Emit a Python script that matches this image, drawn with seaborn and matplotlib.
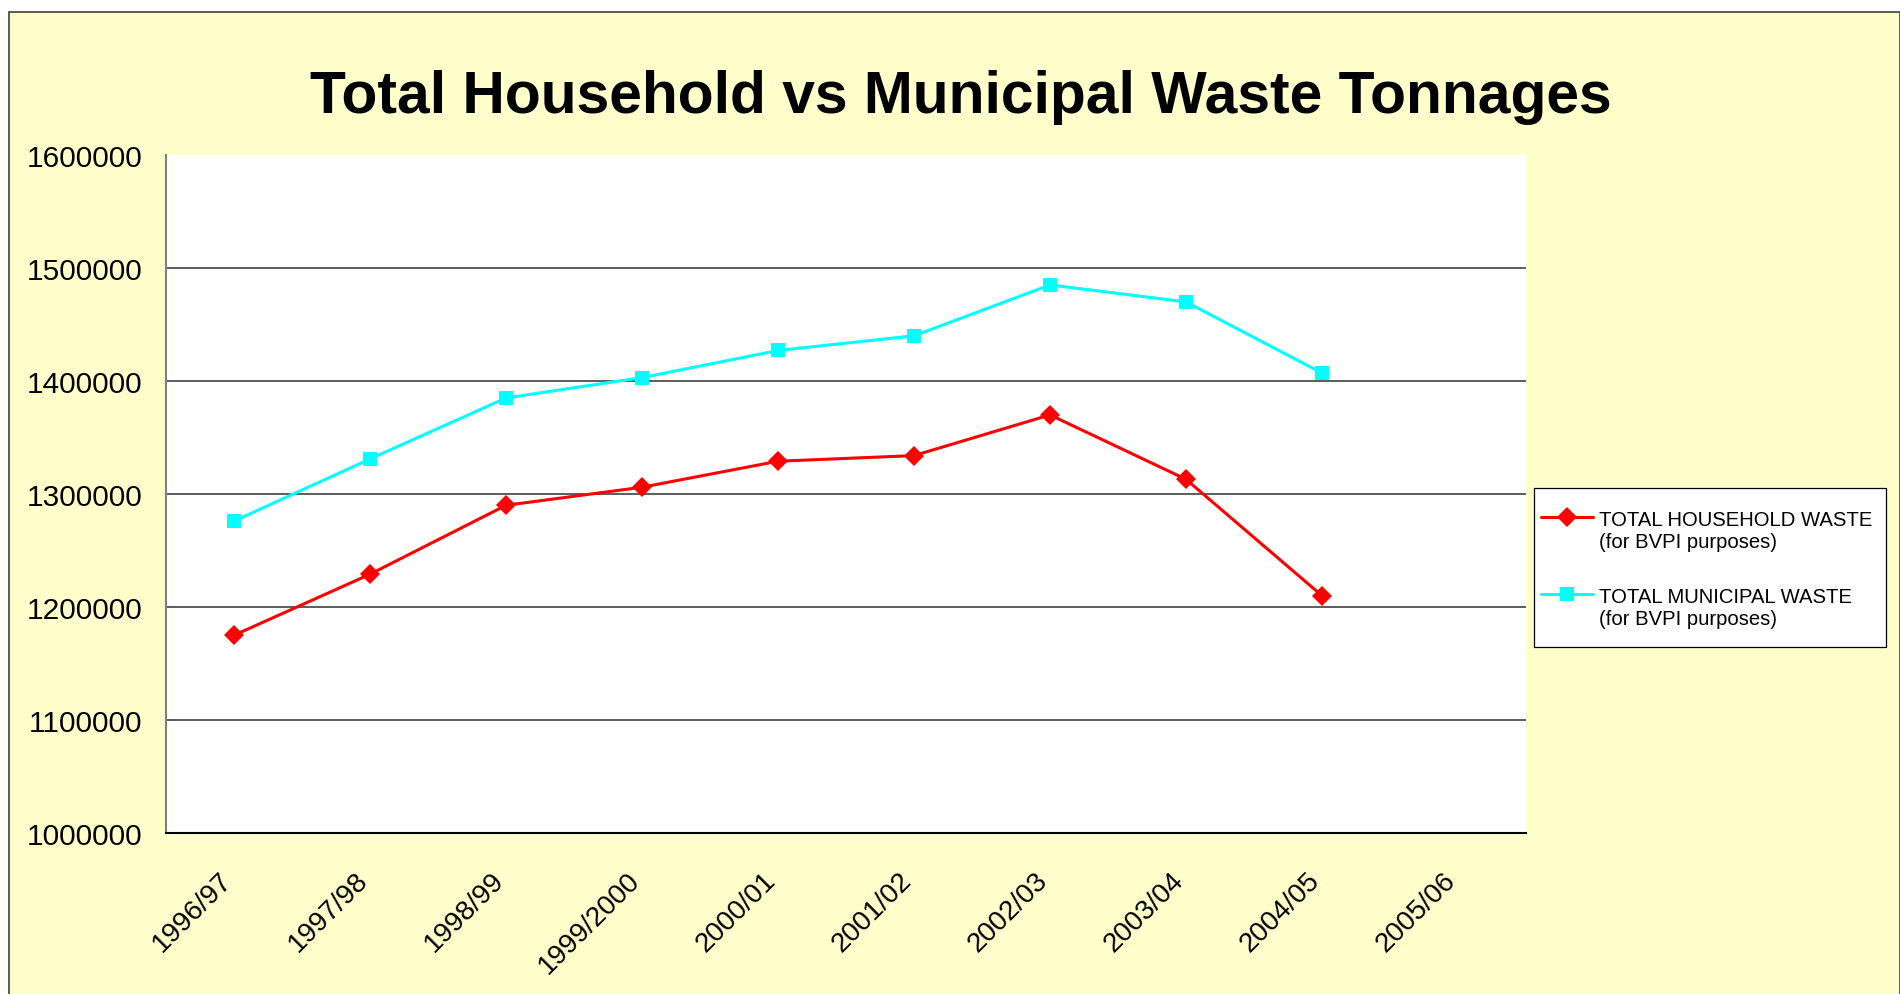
import numpy as np
import pandas as pd
import matplotlib
matplotlib.use("Agg")
import matplotlib.pyplot as plt
from matplotlib.patches import Rectangle
from matplotlib.offsetbox import HPacker
from matplotlib.transforms import ScaledTranslation
import seaborn as sns

YEARS = ["1996/97", "1997/98", "1998/99", "1999/2000", "2000/01",
         "2001/02", "2002/03", "2003/04", "2004/05", "2005/06"]
HOUSEHOLD = [1175000, 1229000, 1290000, 1306000, 1329000,
             1334000, 1370000, 1313000, 1210000]
MUNICIPAL = [1276000, 1331000, 1385000, 1403000, 1427000,
             1440000, 1485000, 1470000, 1407000]
SERIES = ["TOTAL HOUSEHOLD WASTE\n(for BVPI purposes)",
          "TOTAL MUNICIPAL WASTE\n(for BVPI purposes)"]
COLORS = ["#FF0000", "#00FFFF"]
MARKERS = ["D", "s"]
YTICKS = [1000000, 1100000, 1200000, 1300000, 1400000, 1500000, 1600000]
TITLE = "Total Household vs Municipal Waste Tonnages"

W, H = 1900, 995  # output size in pixels


def build_frame() -> pd.DataFrame:
    rows = []
    for name, vals in zip(SERIES, [HOUSEHOLD, MUNICIPAL]):
        for i, (yr, v) in enumerate(zip(YEARS, vals)):
            rows.append({"pos": i, "year": yr, "tonnes": v, "series": name})
    return pd.DataFrame(rows)


def main() -> int:
    sns.set_style("white")
    plt.rcParams["font.family"] = ["Liberation Sans", "DejaVu Sans"]
    plt.rcParams["text.color"] = "black"
    df = build_frame()

    fig = plt.figure(figsize=(W / 100, H / 100), dpi=100, facecolor="white")
    # yellow chart area with dark border (runs off the bottom edge)
    fig.add_artist(Rectangle((9 / W, -0.02), 1 - 9 / W, 1.02 - 13 / H,
                             transform=fig.transFigure, facecolor="#FFFFCC",
                             edgecolor="#404040", linewidth=1.2, zorder=-1))
    ax = fig.add_axes([166 / W, 1 - 834 / H, (1526 - 166) / W, (834 - 156) / H])
    ax.set_facecolor("white")

    sizes = [10, 10.5]
    for name, col, mk, ms in zip(SERIES, COLORS, MARKERS, sizes):
        sns.lineplot(data=df[df["series"] == name], x="pos", y="tonnes",
                     color=col, marker=mk, markersize=ms, markeredgewidth=0,
                     linewidth=2.2, label=name, legend=False, ax=ax)

    ax.set_xlim(-0.5, len(YEARS) - 0.5)
    ax.set_ylim(YTICKS[0], YTICKS[-1])
    ax.set_xticks(np.arange(len(YEARS)))
    ax.set_xticks(np.arange(len(YEARS) + 1) - 0.5, minor=True)
    ax.tick_params(axis="x", which="major", length=0, pad=24)
    ax.tick_params(axis="x", which="minor", length=7, width=1.2, color="#808080")
    ax.set_xticklabels(YEARS, rotation=45, ha="right", va="top",
                       rotation_mode="anchor", fontsize=20, color="black")
    # labels sit a little left of the category centre, as in Excel
    shift = ScaledTranslation(-0.155, 0, fig.dpi_scale_trans)
    for lab in ax.get_xticklabels():
        lab.set_transform(lab.get_transform() + shift)
    ax.set_yticks(YTICKS)
    ax.tick_params(axis="y", length=6.5, width=1.2, color="#808080", pad=10.5)
    ax.set_yticklabels([str(v) for v in YTICKS], fontsize=21.5, color="black")
    ax.set_xlabel("")
    ax.set_ylabel("")

    ax.grid(axis="y", color="#303030", linewidth=1.1)
    ax.set_axisbelow(True)
    ygrid = ax.get_ygridlines()
    ygrid[0].set_visible(False)
    ygrid[-1].set_visible(False)

    for s in ["top", "right"]:
        ax.spines[s].set_visible(False)
    ax.spines["left"].set_color("#808080")
    ax.spines["left"].set_linewidth(1.5)
    ax.spines["bottom"].set_color("black")
    ax.spines["bottom"].set_linewidth(1.5)

    fig.text(960.5 / W, 1 - 113 / H, TITLE, ha="center", va="baseline",
             fontsize=42.3, fontweight="bold", color="black")

    # legend: own frame box, legend contents placed inside it
    fig.add_artist(Rectangle((1534 / W, 1 - 648 / H), 352 / W, 159 / H,
                             transform=fig.transFigure, facecolor="white",
                             edgecolor="black", linewidth=0.9, zorder=2))
    handles, labels = ax.get_legend_handles_labels()
    leg = fig.legend(handles, labels, loc="upper left",
                     bbox_to_anchor=(1541 / W, 1 - 510.7 / H),
                     fontsize=14.6, frameon=False, borderpad=0,
                     handlelength=2.56, handleheight=0.7, handletextpad=0.3,
                     labelspacing=1.77, borderaxespad=0)
    leg.set_zorder(3)
    # put the handle next to the first line of each two-line label
    for hp in leg.findobj(HPacker):
        hp.align = "top"

    fig.savefig("out.png", dpi=100, facecolor="white")
    plt.close(fig)
    return 0


if __name__ == "__main__":
    raise SystemExit(main())
